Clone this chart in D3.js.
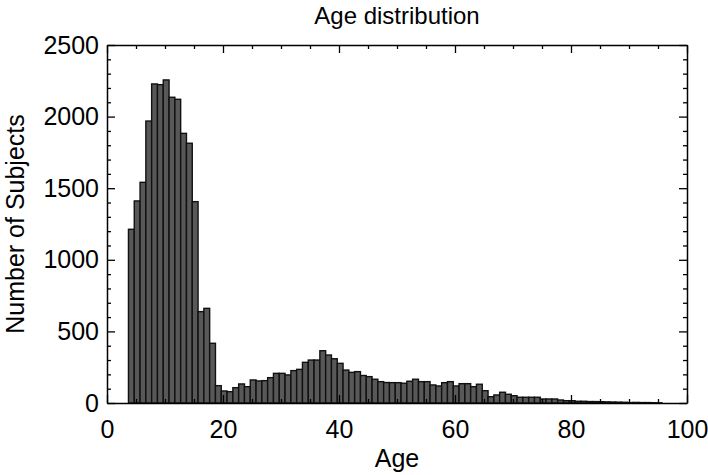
<!DOCTYPE html>
<html>
<head>
<meta charset="utf-8">
<script src="https://cdn.jsdelivr.net/npm/d3@7"></script>
<style>
  body { margin: 0; background: #fff; }
  svg { display: block; font-family: 'Liberation Sans', Arial, Helvetica, sans-serif; }
  .axis path { stroke: #000; stroke-width: 1.5; }
  .axis line { stroke: #000; stroke-width: 1.3; }
  .axis text { font-size: 25px; fill: #000; }
</style>
</head>
<body>
<svg width="708" height="475"></svg>
<script>
// histogram: 1-year bins starting at binStart
const binStart = 3.7;
const binWidth = 1;
const counts = [
  1213, 1411, 1541, 1969, 2228, 2223, 2256, 2135, 2121, 1883,
  1814, 1406, 638, 661, 417, 121, 84, 79, 107, 133,
  114, 161, 154, 156, 177, 207, 207, 196, 226, 235,
  284, 300, 300, 365, 335, 309, 277, 230, 214, 219,
  192, 184, 166, 149, 143, 142, 142, 138, 152, 166,
  149, 149, 126, 119, 142, 149, 119, 135, 135, 114,
  131, 86, 44, 56, 75, 61, 51, 40, 40, 40,
  40, 28, 28, 28, 21, 16, 16, 12, 12, 10,
  10, 9, 8, 7, 6, 5, 3, 4, 3, 3,
  2, 1,
];
const xMajorTicks = [0, 20, 40, 60, 80, 100];
const yMajorTicks = [0, 500, 1000, 1500, 2000, 2500];

const svg = d3.select('svg');
const margin = {
  top: 45, right: 21, bottom: 72, left: 107,
};
const width = +svg.attr('width') - margin.left - margin.right;
const height = +svg.attr('height') - margin.top - margin.bottom;

const x = d3.scaleLinear().domain([0, 100]).range([0, width]);
const y = d3.scaleLinear().domain([0, 2500]).range([height, 0]);

const g = svg.append('g')
  .attr('transform', `translate(${margin.left},${margin.top})`);

const bins = counts.map((c, i) => ({ x0: binStart + i * binWidth, x1: binStart + (i + 1) * binWidth, count: c }));

g.selectAll('.bar')
  .data(bins)
  .enter().append('rect')
  .attr('class', 'bar')
  .attr('x', d => x(d.x0))
  .attr('y', d => y(d.count))
  .attr('width', d => x(d.x1) - x(d.x0))
  .attr('height', d => height - y(d.count))
  .attr('fill', '#585858')
  .attr('stroke', '#111')
  .attr('stroke-width', 1.4);

const xMinor = d3.range(0, 101, 5).filter(v => !xMajorTicks.includes(v));
const yMinor = d3.range(0, 2501, 100).filter(v => !yMajorTicks.includes(v));

// inward ticks on all four sides
function addAxis(axisFn, scale, transform, major, minor, pad) {
  g.append('g')
    .attr('class', 'axis')
    .attr('transform', transform)
    .call(axisFn(scale).tickValues(minor).tickSize(-4).tickFormat(''))
    .call(a => a.select('.domain').remove());
  g.append('g')
    .attr('class', 'axis')
    .attr('transform', transform)
    .call(axisFn(scale).tickValues(major).tickSizeInner(-8).tickSizeOuter(0)
      .tickPadding(pad || 0)
      .tickFormat(pad ? d3.format('d') : ''));
}

addAxis(d3.axisBottom, x, `translate(0,${height})`, xMajorTicks, xMinor, 17);
addAxis(d3.axisTop, x, 'translate(0,0)', xMajorTicks, xMinor, 0);
addAxis(d3.axisLeft, y, 'translate(0,0)', yMajorTicks, yMinor, 8);
addAxis(d3.axisRight, y, `translate(${width},0)`, yMajorTicks, yMinor, 0);

// titles
g.append('text')
  .attr('text-anchor', 'middle')
  .attr('x', width / 2)
  .attr('y', -21)
  .style('font-size', '24px')
  .text('Age distribution');

g.append('text')
  .attr('text-anchor', 'middle')
  .attr('x', width / 2)
  .attr('y', height + 64)
  .style('font-size', '25px')
  .text('Age');

g.append('text')
  .attr('text-anchor', 'middle')
  .attr('transform', `translate(${-83},${height / 2})rotate(-90)`)
  .style('font-size', '25px')
  .text('Number of Subjects');
</script>
</body>
</html>
